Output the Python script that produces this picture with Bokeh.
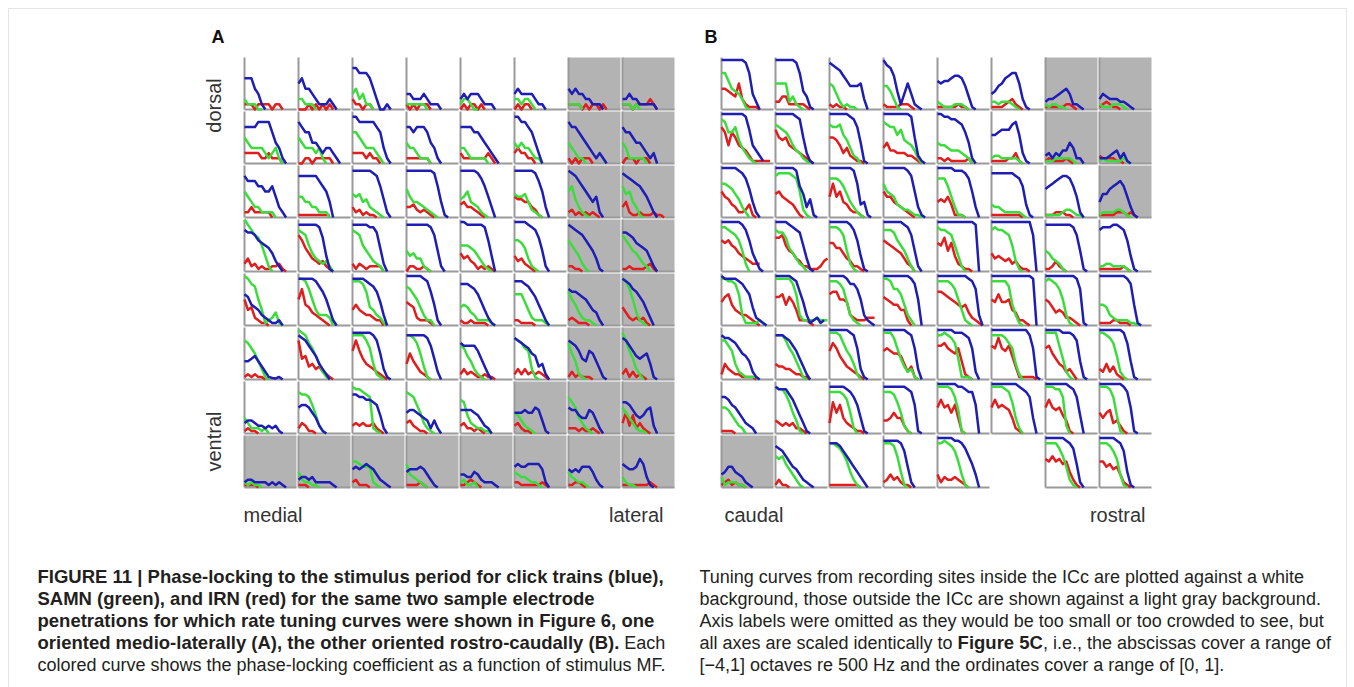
from math import pi
from bokeh.plotting import figure
from bokeh.models import Range1d, BoxAnnotation
from bokeh.core.properties import value
from bokeh.embed import file_html
from bokeh.resources import INLINE

# stimulus MF, octaves re 500 Hz (1/3-octave steps)
MF_OCT = [-4.0, -3.67, -3.33, -3.0, -2.67, -2.33, -2.0, -1.67, -1.33, -1.0,
          -0.67, -0.33, 0.0, 0.33, 0.67, 1.0]

# phase-locking coefficient, in tenths, row-major 8x8 (row 0 = dorsal / top)
A_BLUE = [
    [6,6,6,4,3,1,0], [5,6,4,4,3,2,1,1,1,2,1,0], [8,8,7,7,7,6,4,2,0,0,1,0], [3,3,2,2,2,3,2,1,1,1,0],
    [2,3,2,3,3,3,2,1,1,1,0], [3,4,3,3,3,3,2,1,1,0], [4,3,4,3,3,2,2,1,1,1,0], [2,2,3,2,2,1,1,1,1,1,0],
    [7,7,7,7,8,8,8,8,6,4,3,1,0], [8,7,6,6,4,4,3,2,3,3,2,1,0], [9,9,8,8,8,8,8,7,6,3,1,0], [7,7,6,7,7,7,6,4,3,1,0],
    [7,7,7,7,6,6,5,4,3,2,1,0], [9,9,8,8,7,6,4,2,0], [8,7,7,6,5,4,3,2,1,2,1,0], [7,6,6,5,4,4,3,2,1,2,0],
    [8,7,7,7,6,6,5,5,6,4,2,1,0], [8,8,8,8,8,8,7,6,5,3,0], [9,9,9,9,9,9,8.5,8,6,3.5,1,0], [9,9,9,9,9,9,9,9,8.5,6,3,0.5,0],
    [9,9,9,9,9,8.5,7.5,6,4,2,0], [9,9,9,9,9,9,8.5,7,5,2,0], [9,8.5,8,7,6,5,4,3,4,1,0], [8.5,8,7.5,7,6.5,6,5,4,2.5,1,0],
    [8,7.5,7.5,7,6,5.5,5,4.5,3.5,2,1,0], [9,9,9,9,9,9,8.5,6.5,3,0.5,0], [9,9,9,9,9,8.5,8.5,7.5,4.5,1.5,0], [9,9,9,9,9,9,9,8.5,7,4,1,0],
    [9.5,9.5,9,9,9,9,9,8.5,6,3,0], [9.5,9.5,9.5,9.5,9,8.5,8,6.5,4,1,0], [9,8.5,8,7.5,7,6,5,4,2.5,0.5,0], [7.5,7.5,7,6.5,5.5,5,4.5,4,2.5,1,0],
    [6,5.5,4,3.5,3,2,1.5,1,0.5,0.5,1,0], [9,9,9,9,9,8.5,7.5,6.5,5,3,1,0], [9,9,9,9,8.5,8,7.5,6.5,4.5,2,0], [9.5,9.5,9.5,9.5,9.5,9,8.5,6.5,4,1,0],
    [8,8,8,7.5,7,6,4.5,3,1.5,0.5,0], [8.5,8.5,8.5,8,7.5,6.5,5.5,4,2.5,1,0], [7,6.5,6.5,6,5.5,5,4,3,2.5,1,0], [9,8.5,8,7,6.5,5.5,4.5,3,1.5,0],
    [3.5,3.5,4,4.5,3.5,2.5,1.5,0.5,0.3,0.2,0.5,0], [8.5,8,7.5,6.5,5.5,4.5,3,2,1,0], [9,9,9,9,9,9,8.5,7.5,5,2,0.5,0], [8.5,8.5,8.5,8.5,8.5,8.5,8,6.5,4,1.5,0],
    [7,6.5,6.5,6.5,6.5,5.5,4,2.5,1,0], [8,7.5,7,6.5,6,5,4.5,2.5,3,1,0], [7.5,7,6.5,5.5,4,3.5,5.5,5,3.5,2,0.5,0], [8,7.5,6.5,5.5,4.5,4,4.5,5,3,0.5,0],
    [2,2.5,2.5,2,1.5,1.5,1,1.5,1,1.5,0.5,0], [5,5.5,5.5,5,4,3,1.5,0.5,0], [7.5,7.5,7,7,6.5,6.5,6,5.5,3.5,1,0], [4,4.5,4.5,4,3.5,3,2.5,1,2.5,1,0],
    [4.5,4.5,4.5,4.5,4,3.5,2.5,1.5,1,0], [4,4,4,4.5,4,4,5,4.5,2.5,0.5,0], [5,4.5,4.5,3.5,3,3,4.5,4,2.5,1,0], [6,6,5.5,4.5,3.5,3,3.5,4.5,5,1.5,0],
    [1,1.5,1.5,1,1,1,1,0.5,1,0.5,1,0.5,0], [1.5,2,2,1.5,2,1,1,1,1,1,0.5,0], [3.5,4,3.5,4,4.5,4,3.5,2.5,1.5,1,0.5,0], [3,3.5,3.5,3.5,4,3.5,2.5,1.5,0.5,0],
    [2.5,2.5,2,2,3,2.5,1.5,1,1,1,0.5,0], [4,4.5,4,4,4.5,4.5,4.5,4.5,3.5,1,0], [3.5,3,3.5,3,4,4,4,3,1.5,0.5,0], [4.5,4,3.5,3.5,4,5.5,4.5,2,0.5,0],
]
A_GREEN = [
    [2,1,1,1,0,0], [2,2,1,1,1,0], [3,4,2,3,1,1,0], [1,1,1,1,1,1,0],
    [1,2,2,1,0,0], [2,2,1,2,2,1,0], [1,1,1,1,0], [1,1,1,0,1,0],
    [5,4,3,3,3,3,2,1,2,3,1,0], [5,4,3,3,3,2,3,1,0], [6,6,5,4,3,3,3,2,1,0], [4,3,3,2,1,1,1,0],
    [3,3,2,1,1,1,1,1,0], [4,3,4,3,3,2,1,1,0], [4,3,2,1,1,0], [4,3,1,1,1,1,1,0],
    [5,4,3,2,2,1,1,1,1,0], [4,4,3,3,2,2,1,1,1,0], [4.5,4,4.5,3,3.5,2,1.5,1,0.5,0], [5.5,4,3,3,2.5,2,1.5,1,0.5,0],
    [3.5,4,5,3,2.5,2,1,0.5,0], [4.5,4,4,4.5,3,1.5,1,0.5,0], [5,6,3.5,2,1,0.5,0], [6,4.5,5,3,2,0.5,0],
    [10,9,8,7,6.5,5,3,1,0], [8,7.5,7,5,3.5,2.5,2,1.5,2,1,0], [8,7.5,7,5,4,3,2,1.5,1,0], [4,3,3.5,2.5,2.5,1,0.5,0],
    [5,5,5,4.5,4,3,2,1,0.5,0], [6,6,5.5,4.5,2.5,1,0.5,0], [6,5,4,3,1.5,0.5,0], [7,6,5,4,3.5,2.5,1.5,1,0],
    [9.5,9,8,7.5,5,3,0.5,1,1.5,2.5,0.5,0], [9,9,8.5,7,5,3,2,2,2,1.5,0], [8.5,8.5,8.5,8,6.5,3.5,3,2,1.5,0.5,0], [7.5,7,6,5,3.5,2,1,1,0],
    [3.5,4,3.5,2.5,2,1,1,1,1,0.5,0], [6,6,6,4.5,3,1.5,1,1,1,0.5,0], [6.5,5,4,2.5,1.5,1,1,0.5,0], [9,8.5,7,5,2.5,1,0.5,0],
    [7.5,7,6,5,3.5,2,0.5,0], [9.5,9,8.5,7,6,4.5,3,1.5,0.5,0], [8.5,8.5,8.5,8.5,7.5,6,3,1,0.5,0], [8.5,8.5,8,7,5,2.5,0.5,0],
    [6.5,6,4.5,3.5,2,1,0.5,0], [8,7.5,7,6,5.5,2,0.5,0], [7,5,3.5,1,0.5,0], [9,7.5,5.5,4,2,1,0],
    [3,2,1,1,1,0.5,1,0], [8,7.5,7.5,7,5.5,3.5,1.5,0.5,0], [9,8.5,8.5,8,7.5,7,1,0.5,0], [8,7.5,7,5.5,4,2,1,0.5,0],
    [6.5,6,3.5,2,1.5,1,1,0.5,0.5,0], [4,3.5,2.5,1.5,1,0.5,0], [7,6,5,3,2,1,0.5,0], [5,4,3,2,1,0.5,0.5,0],
    [1,0.5,1,0.5,0.5,0], [3,1.5,1,1,0.5,0.5,0], [5,5,4.5,4,4,4,1,0.5,0], [4.5,2.5,2,1.5,1,0.5,0],
    [1,1.5,0.5,0.5,1,0], [3,2.5,2,2,1.5,1,1,0.5,0], [3,2,1.5,1,1,0.5,0], [2,1,0.5,0.5,0],
]
A_RED = [
    [1,1,1,0,1,1,1,1,0,1,1,0], [0,0,0,1,0,1,0,1,0,1,0], [2,1,1,0,1,1,0], [1,0,1,0,1,1,1,0],
    [0,1,0,1,1,0,1,0], [0,1,0,1,1,0], [1,1,1,1,0,1,0,1,1,0,1,0], [1,1,1,0,1,1,1,1,2,1,0],
    [2,2,2,2,2,1,1,2,1,1,1,0], [0,0,1,1,0,1,1,1,1,1,0], [2,2,2,2,1,2,1,1,0], [1,1,1,1,1,1,1,0],
    [2,1,1,1,1,1,1,1,2,1,0], [2,3,2,2,1,1,0], [1,0,1,0,1,1,1,0], [0,1,1,1,0,1,1,1,0],
    [1,1,2,1,1,1,1,1,0], [0.5,0.5,0.5,0.5,0.5,0.5,0.5,0.5,0.5,0.5], [2,1,1.5,0.5,1,0.5,0.5,0], [2,2,2.5,1.5,1,1.5,1,0.5,0],
    [2.5,3,2,2,1.5,1,0.5,0], [4,3.5,3.5,3,3,2,1.5,0.5,0], [1,1.5,0.5,1,0.5,1,0.5,1,0.5,0], [2,3,1,0.5,0.5,1,0.5,0.5,0.5,1,0.5,0.5,0],
    [1.5,2.5,1,1.5,0.5,1,0.5,0.5,1,1,1.5,0.5,0], [7,6,4.5,3.5,2.5,2,1.5,2,1,0.5,0], [1.5,0.5,1.5,1,0.5,1,1,1,1,0], [0,1,1,0.5,0.5,1,0.5,0],
    [3.5,2.5,3,2,1.5,0.5,1,0.5,1,0.5,0], [3,2,2.5,1.5,1,0.5,0], [1,1,0.5,0.5,0], [0.5,0.5,1,0.5,0.5,0.5,0.5,1,1.5,0.5,0],
    [5,3,3.5,1.5,1,0.5,0.5,0], [5,7,4,3.5,2.5,2,1.5,1,0.5,0], [3,4,3,2.5,2,2,1.5,1,1,0], [4.5,4,3.5,1.5,1,1,1,0.5,0],
    [1,0.5,0.5,1,0.5,0.5,0.5,0.5,0], [1,1,0.5,0.5,0.5,0.5,0], [1,1.5,1,0.5,0.5,0.5,0], [3.5,2.5,1.5,1,1.5,1,1.5,0.5,0],
    [0.5,1,0.5,1,0.5,0.5,0], [7.5,4,4.5,2.5,3,2,2.5,1.5,1,0.5,0], [5.5,7.5,5.5,4,3,2.5,2,1.5,1,0.5,0], [3,5,3.5,2.5,1.5,1,0.5,0],
    [1,2,1,1.5,1,0.5,0.5,1,0.5,0.5,0], [1,2,1,2,1,1.5,1,1.5,1,0.5,0], [0.5,1.5,0.5,1,0.5,0.5,0.5,0], [1,2,0.5,1.5,0.5,1,0.5,0],
    [0.5,1,0.5,0.5,0], [1,2,1.5,0.5,0.5,0], [1.5,2,1.5,2,1.5,1.5,2,1,0.5,0], [2,2.5,1.5,1,0.5,0.5,0],
    [1.5,2,1,1,0.5,1,0.5,0], [1.5,2,1,0.5,0.5,0], [1,1,1,0.5,1,0.5,0.5,1,0.5,0], [2,4,1.5,3.5,1,2,1,0.5,0],
    [0.5,0.5,0.5,0.5,0], [0.5,0.5,0.5,0], [1,1.5,0.5,0.5,0.5,0], [0.5,0.5,0.5,0.5,1,0.5,0],
    [0.5,0.5,1,1.5,1,0.5,0], [1,1,0.5,0.5,0.5,0.5,0.5,0.5,1,0.5,0], [0.5,0.5,1,1,0.5,0], [0.5,0.5,0.5,0.5,0.5,0.5,0.5,0.5,1,0.5,0],
]
A_OUTSIDE = ["00000011", "00000011", "00000011", "00000011",
             "00000011", "00000011", "00000111", "11111111"]

B_BLUE = [
    [9.5,9.5,9.5,9.5,9.5,9.5,9.5,9,7,3,1.5,0], [9.5,9.5,9.5,9.5,9.5,9.5,9,7,3.5,2.5,0.5,0], [9,8.5,8,7.5,6.5,5.5,4.5,4.5,4.5,5,2,0], [9.5,8.5,8,6.5,3.5,1,3,5,3,1,0.5,0],
    [5.5,5,5.5,5.5,6,6.5,6.5,6,4.5,2.5,0.5,0], [3,3.5,4.5,5,6,6.5,7,7,5,2,0.5,0], [1.5,2,2,2.5,3,3.5,4,3,1,1,0.5,0], [2,3,2.5,2,2,2,1.5,1.5,1,0.5,0],
    [9.5,9.5,9.5,9.5,9.5,9.5,9.5,9,6.5,3.5,2.5,1.5,0.5], [9.5,9.5,9.5,9.5,9.5,9.5,9,8.5,5,2,0.5,0], [9.5,9.5,9.5,9.5,9.5,9.5,9,8.5,7,4,0.5,0], [9.5,9.5,9.5,9.5,9.5,9.5,9.5,9.5,9,5,1.5,0.5,0],
    [9.5,9.5,9,9,8.5,8.5,8,7.5,6,4,1,0], [5.5,5.5,6,6.5,6.5,6.5,7.5,8,5.5,2,0.5,0], [1.5,2,1,2,1.5,2.5,2.5,4,3,1,1,0], [1,1,1,1.5,2,2.5,1,2,0.5,0],
    [9.5,9.5,9.5,9.5,9.5,9,8.5,7.5,5.5,3,1,0], [9.5,9.5,9.5,9.5,9.5,9.5,9,6,4.5,2,3.5,0.5,0], [9.5,9.5,9.5,9.5,9.5,9.5,9.5,9,6.5,2.5,3,0.5,0], [9.5,9.5,9.5,9.5,9.5,9.5,9.5,9,8,5,2,0.5,0],
    [9.5,9.5,9.5,9.5,9.5,9,9,9,8.5,7.5,5,2,0], [8.5,8.5,8.5,8.5,8.5,8.5,8.5,8,7.5,6,2.5,0.5,0], [5.5,6,6.5,7,7.5,8,8,7.5,6,4,1,0], [3,4.5,4.5,5.5,6,6.5,7,6,4,2,0.5,0],
    [9.5,9.5,9.5,9.5,9.5,9.5,9,8,6,3.5,2,0.5,0], [9.5,9.5,9.5,9.5,9,8.5,8,7.5,5,2.5,0.5,0], [9.5,9.5,9.5,9.5,9.5,9.5,9,8,6,3,0.5,0], [9.5,9.5,9.5,9.5,9.5,9.5,9,8.5,7,4,1,0],
    [9.5,9.5,9.5,9.5,9.5,9.5,9.5,9.5,9.5,9.5,9.5,9,0], [9.5,9.5,9.5,9.5,9.5,9.5,9.5,9.5,9.5,9.5,9.5,9.5,7,0], [9,9,9,9,9,9,9,9,8.5,7,4,0.5,0], [8,8.5,8.5,8.5,9,9,8.5,8,6,3,0.5,0],
    [9.5,9,9,9,9,8.5,8,7,6,3.5,1.5,1,0.5,0], [9.5,9.5,9.5,9.5,9.5,9,8.5,6.5,4.5,2,0.5,1,1.5,0.5,1], [9.5,9.5,9.5,9.5,9.5,9,8,8,7,5,2,1,0.5,0], [9.5,9.5,9.5,9.5,9.5,9.5,9.5,9.5,9,8,5,0],
    [9.5,9.5,9.5,9.5,9.5,9.5,9.5,9.5,9.5,9,8.5,7,2,0], [9.5,9.5,9.5,9.5,9.5,9.5,9.5,9.5,9.5,9.5,9.5,9.5,9,0], [9.5,9.5,9.5,9.5,9.5,9.5,9.5,9.5,9.5,9,7,0.5,0], [9.5,9.5,9.5,9.5,9.5,9.5,9.5,9.5,9,8,4,0.5,0],
    [8.5,8,8,7.5,7,6,5,4.5,3.5,1.5,0.5,0], [8.5,8.5,8.5,8,7.5,6.5,5.5,4,2.5,1,0], [9.5,9.5,9.5,9.5,9.5,9.5,9,8.5,6,2,0.5,0], [9.5,9.5,9.5,9.5,9.5,9.5,9.5,9,8.5,6,2,0],
    [9.5,9.5,9.5,9.5,9.5,9,9,9,8.5,8,6,1.5,0], [9.5,9.5,9.5,9.5,9.5,9.5,9.5,9.5,9.5,9.5,9.5,8.5,6,0.5,0], [9.5,9.5,9.5,9.5,9.5,9,9,9,8.5,7.5,3.5,0.5,0], [9.5,9.5,9.5,9.5,9.5,9.5,9.5,9,7,3.5,0.5,0],
    [7,7,6.5,5.5,5,4,3,2,1.5,1,0], [9,8.5,8.5,8.5,7.5,6.5,5,3.5,2,0.5,0], [9,9,9,9,9,8.5,8,7,5.5,3,0.5,0], [9,9,9,9,9,9,9,8.5,8,5.5,0.5,0],
    [9.5,9.5,9.5,9.5,9.5,9.5,9,9,8.5,8,8,5.5,0], [9.5,9.5,9.5,9.5,9.5,9.5,9.5,9.5,9,8.5,8,7,3,0], [9.5,9.5,9.5,9.5,9.5,9.5,9.5,9,8.5,7,3.5,0], [9.5,9.5,9.5,9.5,9.5,9.5,9.5,9,8,5,0.5,0],
    [2.5,3,4,4,3,2.5,2,1,0.5,0], [8,7.5,7,6,5,4,3.5,2.5,1.5,1,0.5,0], [8.5,8.5,8.5,8,7,6,5,4,3,2,1,0], [9,9,9,9,9,8.5,7,4,1,0],
    [9.5,9.5,9.5,9.5,9.5,9,9,8.5,7.5,6,4.5,2.5,0], [], [9.5,9.5,9.5,9.5,9.5,9.5,9,8.5,7.5,4.5,1,0], [9.5,9.5,9.5,9.5,9.5,9,8.5,7,3,0.5,0],
]
B_GREEN = [
    [7,7,5.5,4,3.5,3,2,0.5,0], [5,5,5,5,1.5,2.5,1,0.5,0], [5,4.5,3,1.5,0.5,1,0.5,0.5,0], [4.5,4.5,3.5,2,0.5,0],
    [1.5,1,0.5,0.5,0.5,1,1,1,0.5,0], [1.5,1.5,1,1.5,1.5,1.5,1,0.5,0], [1,0.5,1,1,0.5,0.5,0], [1,0.5,0.5,0.5,1,1,1,0.5,0],
    [8.5,8,6,6,7,4.5,3,2,1,0.5,0], [7.5,7,6.5,6,5,3.5,2.5,2,1,0.5,0], [7.5,7,7,7.5,5.5,4.5,3,1.5,1,0], [8,7.5,7,7,5.5,6.5,4.5,4,3.5,2.5,1,0],
    [4,3.5,3.5,3,2.5,2.5,2.5,2,1.5,1,0], [1,1.5,1.5,1,1,1,1,1,0.5,0], [0.5,0.5,0.5,1,1,1,1,1,0.5,0], [0.5,1,0.5,0.5,0.5,0.5,0.5,1,0.5,0],
    [6.5,6.5,6,5.5,4.5,3.5,2,1,0], [8,8.5,8.5,8.5,8.5,8,7.5,5,1.5,0.5,0], [7.5,7.5,7.5,7,6,4.5,3,2,1,0.5,0], [6.5,5,4.5,4,2.5,2,1.5,1.5,1,0.5,0.5,0],
    [7.5,7.5,7.5,6,4,2,0.5,0.5,0], [2.5,2,2,1.5,1,1,1,1,1,0.5,0], [0.5,0.5,0.5,0.5,0.5,1,1.5,1.5,1,0.5,0.5,0], [0.5,1,1,1,1,1.5,1.5,1,0.5,0],
    [8.5,8.5,8,7.5,7,6,4,1.5,0], [8,7.5,7.5,6.5,4.5,3.5,2.5,1.5,1,0], [8.5,8.5,8.5,8,7,4,1.5,0.5,0], [8,8,8,7.5,6,5,4,2.5,1,0],
    [8.5,8,8,7.5,7,5,3,1,0], [8,8.5,8,8,7.5,7,5,2,0.5,0], [4,3.5,2.5,2,1.5,0.5,0], [1,1,1.5,1.5,1,1,1,1,0.5,0],
    [9,9,8.5,8.5,8,6,2,0.5,0.5,0.5,0.5,1,0.5,0], [9,9,9,9,9,8,6,2,1,1,1,1,1.5,1,1,1], [8.5,8.5,8.5,8,7,4.5,2,1,0.5,0], [9,9,8.5,7,7,6,4,2,1,0],
    [8.5,8.5,8.5,8.5,8,7,5,3,1,0.5,0], [8.5,8.5,8.5,8.5,8.5,7.5,4,2,0.5,0], [8.5,9,8.5,8,7,5,2,0.5,0], [4,4,3.5,2,1.5,1,1,1,1,0.5,0.5,0],
    [7.5,7.5,6.5,5.5,3,1.5,1,0.5,0.5,0.5,0.5,0], [8.5,8.5,8.5,7.5,6,5,3.5,2,0.5,0], [9,9,9,8.5,7,5.5,4.5,3,1,0], [9,9,9,8,6,4,2.5,1.5,2,0.5,0],
    [8.5,8.5,9,8.5,8,7,4,0.5,0.5,0.5,0], [8.5,8.5,8.5,8.5,8,7,6,3,1,0], [9,9,9,9,6.5,4,1.5,0.5,0], [9,9,8.5,8,7,4.5,1.5,0.5,0],
    [5,5,4.5,3.5,2.5,1.5,1,0], [9,8.5,8.5,7.5,6,4,2.5,0.5,0], [8,8,8,8,7.5,6.5,4,1,0], [8,8,8,7.5,6,4,1.5,0.5,0],
    [9,9,9,9,8.5,7,4.5,0.5,0], [9,9,9,9,8.5,8,6,3,1,0], [9,9,9,8.5,8.5,7,1.5,0], [9,9,9,8.5,7,3.5,0.5,0],
    [2,0.5,1,1,1,0.5,0.5,0], [6,5.5,6,4.5,3.5,2.5,1.5,0.5,0], [8.5,8.5,8,7.5,6.5,5,3,1.5,0.5,0], [8.5,8.5,8.5,8,6,3,0.5,0],
    [8.5,8.5,9,8.5,8,7,5,2.5,0.5,0], [], [8.5,8.5,8.5,8.5,7.5,6,4,1.5,0.5,0], [8.5,8.5,8.5,8,7,5.5,2.5,0.5,0],
]
B_RED = [
    [4,4,3.5,3,2.5,5,2,1,0.5,0.5,0.5,0], [1.5,1.5,2.5,2.5,1,1,1,1,1,0.5,0], [1,0.5,1,0.5,0.5,0], [1,0.5,0.5,0.5,0.5,1,1,1,0.5,0],
    [0.5,0.5,0.5,0.5,0.5,0.5,1,0.5,0.5,0], [0.5,0.5,0.5,0.5,1,1.5,2,1,0.5,0], [0.5,0.5,0.5,0.5,0.5,0.5,1,1,0.5,0], [0.5,1,1.5,1,0.5,0.5,0],
    [7,6,3.5,6,5,3.5,3,2.5,1.5,0.5,0.5,0.5,0.5,0.5,0.5], [6.5,5,4.5,5,3.5,3,2.5,2,1.5,1,0.5,0], [5,5,4.5,3.5,2,3,1.5,1,0.5,0.5,0], [3,4,2.5,2.5,2,2,2,1.5,1.5,1,0.5,0],
    [1,1,0.5,1,0.5,0.5,0.5,0.5,0.5,1,0], [0.5,0.5,0.5,0.5,0.5,1,1,2,0.5,0], [0.5,1,0.5,0.5,0.5,0.5,1,0.5,0], [1.5,1,1,1,1,0.5,0.5,0],
    [5,4,3.5,2.5,2,1,1,1.5,2.5,0.5,0], [4.5,5,4,3.5,3,2.5,1.5,0.5,0], [4,6.5,4,5,3,2.5,1.5,1,1,0.5,0], [5,4,4,3,2.5,2,1.5,1,0.5,0],
    [3,3.5,3,4,2.5,0.5,0.5,0.5,0], [0.5,0.5,0.5,0.5,0.5,0.5,0.5,0.5,0.5,0], [0.5,0.5,0.5,1,1,1,0.5,0.5,0], [0.5,0.5,0.5,0.5,0.5,1,1,1,0.5,1,0.5,0],
    [6,5.5,6,5,4.5,3.5,3,2.5,2,1.5,1.5,1.5], [6.5,6.5,7,5,4,3.5,2.5,2,1,1,0.5,0.5,0.5,1,2,2.5], [5.5,5.5,4.5,4.5,3.5,2.5,2,1,1,0.5,0], [6,5.5,5,4.5,4,3.5,2.5,1.5,1,0],
    [5.5,5,6.5,4,5.5,3,1.5,1,0.5,0.5,0], [3.5,2.5,3,2.5,2,2.5,1.5,2,1,0.5,0.5,0], [0.5,0.5,1,2,1,0.5,0], [0.5,0.5,0.5,0.5,0.5,0.5,0.5,1,0.5,0],
    [4.5,5.5,6,4,3,2.5,2,2,1.5,1,0.5,0], [5.5,5.5,6,4,5.5,4.5,3,1,1,1,0.5,0], [6,6.5,6.5,5,5,4.5,2,1.5,1,1,1,1.5,1.5,1.5], [5.5,5,4.5,4,4,3,3,1,0],
    [6.5,6.5,6,5.5,5,4.5,4,3.5,4,2.5,1.5,1,0.5,0], [5,4.5,6,4.5,4.5,5,3,2.5,1,1,0.5,0], [5,4.5,3.5,2.5,3,2.5,1.5,1.5,1,0.5,0], [0.5,0.5,0.5,0.5,1,1,0.5,0.5,0.5,0],
    [1,3,2,1.5,1,1,0.5,0.5,0.5,0.5,0], [3,2.5,2.5,2,2,1.5,1,1,0.5,0.5,0], [5.5,7,6,4.5,3.5,2.5,2,1.5,1,0.5,0], [5.5,6,5.5,5,5,4.5,3,1.5,2.5,0.5,0],
    [6.5,6.5,7,6,5.5,5,6,3.5,1,0.5,0], [6.5,6,8,6,5.5,6.5,4.5,2.5,0.5,0.5,0.5,0.5,0.5,0], [6,6.5,5,4,3,2.5,1.5,2,1,0], [2,1.5,3,1.5,2.5,1,0.5,0],
    [0.5,0.5,0.5,0.5,0], [2.5,2,1.5,2,1.5,2,1,1,0.5,0], [2,6,4,5.5,3,2,1.5,1,0.5,0.5,0], [2.5,2.5,3,4,3,3,1.5,0.5,0],
    [5,6.5,5,5.5,4,5.5,3,0.5,0], [5,6.5,5,5.5,5,4.5,3,1,0.5,0], [5,6.5,5,4.5,5,3.5,2.5,0.5,0], [4,3,4,4.5,2,2.5,1.5,0.5,0],
    [0.5,1,1.5,0.5,1,0.5,0.5,0], [0.5,1.5,0.5,0.5,0], [0.5,0.5,0.5,0.5,0.5,0.5,0.5,0.5,0.5,0], [1,1.5,2.5,1.5,2,1,0.5,0.5,0],
    [2.5,1,2,1.5,1.5,2,1.5,1,0.5,0], [], [5.5,5,6,5,5.5,4.5,5,3,1.5,0.5,0], [5,5,4,4.5,3.5,4,2.5,1,0.5,0],
]
B_OUTSIDE = ["00000011", "00000011", "00000001", "00000000",
             "00000000", "00000000", "00000000", "10000000"]

CAPTION_LEFT_BOLD = [
    "FIGURE 11 | Phase-locking to the stimulus period for click trains (blue),",
    "SAMN (green), and IRN (red) for the same two sample electrode",
    "penetrations for which rate tuning curves were shown in Figure 6, one",
    "oriented medio-laterally (A), the other oriented rostro-caudally (B).",
]
CAPTION_LEFT_TAIL = "Each"
CAPTION_LEFT_LAST = "colored curve shows the phase-locking coefficient as a function of stimulus MF."
CAPTION_RIGHT = [
    "Tuning curves from recording sites inside the ICc are plotted against a white",
    "background, those outside the ICc are shown against a light gray background.",
    "Axis labels were omitted as they would be too small or too crowded to see, but",
    None,
    "[\u22124,1] octaves re 500 Hz and the ordinates cover a range of [0, 1].",
]
CAPTION_R4 = ["all axes are scaled identically to ", "Figure 5C", ", i.e., the abscissas cover a range of"]

# ---- styling / layout ----
BLUE, GREEN, RED = "#1e1eb4", "#3ddc3d", "#e01e1e"
GRAY_BG, AXIS_COL = "#b3b3b3", "#9a9a9a"
TXT = "#231f20"
FONT = value("Liberation Sans")
W, H = 1354, 687
CELL, PITCH, TOP = 52, 54, 57
PANEL_LEFT = {"A": 244, "B": 721}

p = figure(width=W, height=H, x_range=Range1d(0, W), y_range=Range1d(H, 0),
           output_backend="svg", toolbar_location=None, min_border=0,
           x_axis_location=None, y_axis_location=None)
p.grid.visible = False
p.outline_line_color = None
p.background_fill_color = "white"
p.border_fill_color = "white"

p.add_layout(BoxAnnotation(left=8, right=1346, top=8, bottom=720, fill_alpha=0,
                           line_color="#a6a6a6", line_width=1))

X_SRC = Range1d(-4, 1)
Y_SRC = Range1d(0, 1)


def draw_panel(x_left, blue, green, red, outside):
    for r in range(8):
        for c in range(8):
            i = r * 8 + c
            if not blue[i]:
                continue
            left = x_left + c * PITCH
            top = TOP + r * PITCH
            sp = p.subplot(x_source=X_SRC, y_source=Y_SRC,
                           x_target=Range1d(left, left + CELL),
                           y_target=Range1d(top + CELL, top))
            if outside[r][c] == "1":
                sp.quad(left=[-4], right=[1], bottom=[0], top=[1],
                        fill_color=GRAY_BG, line_color=None)
            sp.segment(x0=[-4, -4], y0=[0, 0], x1=[1, -4], y1=[0, 1],
                       line_color=AXIS_COL, line_width=2)
            for vals, col in ((red[i], RED), (green[i], GREEN), (blue[i], BLUE)):
                sp.line(x=MF_OCT[:len(vals)], y=[v / 10 for v in vals],
                        line_color=col, line_width=2.5, line_join="round")


draw_panel(PANEL_LEFT["A"], A_BLUE, A_GREEN, A_RED, A_OUTSIDE)
draw_panel(PANEL_LEFT["B"], B_BLUE, B_GREEN, B_RED, B_OUTSIDE)

# panel letters
p.text(x=[211, 704], y=[36, 36], text=["A", "B"], text_font=FONT, text_font_size="18px",
       text_font_style="bold", text_color="#111111", text_baseline="middle", text_align="left")
# orientation labels
p.text(x=[213, 213], y=[105, 441], text=["dorsal", "ventral"], angle=pi / 2, text_font=FONT,
       text_font_size="20px", text_color="#333333", text_baseline="middle", text_align="center")
p.text(x=[243, 724], y=[514, 514], text=["medial", "caudal"], text_font=FONT,
       text_font_size="20px", text_color="#333333", text_baseline="middle", text_align="left")
p.text(x=[663, 1145], y=[514, 514], text=["lateral", "rostral"], text_font=FONT,
       text_font_size="20px", text_color="#333333", text_baseline="middle", text_align="right")

# caption
CAP_SIZE = 18
BOLD_SIZE = 18.5
LINE_Y = [576, 598, 620, 642, 664]
LX, RX = 37, 699
p.text(x=[LX] * 4, y=LINE_Y[:4], text=CAPTION_LEFT_BOLD, text_font=FONT,
       text_font_size=f"{BOLD_SIZE}px", text_font_style="bold", text_color=TXT,
       text_baseline="middle", text_align="left")
p.text(x=[LX + 31.45 * BOLD_SIZE + 0.278 * CAP_SIZE, LX], y=[LINE_Y[3], LINE_Y[4]],
       text=[CAPTION_LEFT_TAIL, CAPTION_LEFT_LAST], text_font=FONT,
       text_font_size=f"{CAP_SIZE}px", text_color=TXT, text_baseline="middle", text_align="left")
right_idx = [0, 1, 2, 4]
p.text(x=[RX] * 4, y=[LINE_Y[k] for k in right_idx], text=[CAPTION_RIGHT[k] for k in right_idx],
       text_font=FONT, text_font_size=f"{CAP_SIZE}px", text_color=TXT,
       text_baseline="middle", text_align="left")
p.text(x=[RX, RX + 14.339 * CAP_SIZE + 4.612 * BOLD_SIZE], y=[LINE_Y[3]] * 2,
       text=[CAPTION_R4[0], CAPTION_R4[2]], text_font=FONT, text_font_size=f"{CAP_SIZE}px",
       text_color=TXT, text_baseline="middle", text_align="left")
p.text(x=[RX + 14.339 * CAP_SIZE], y=[LINE_Y[3]], text=[CAPTION_R4[1]], text_font=FONT,
       text_font_size=f"{BOLD_SIZE}px", text_font_style="bold", text_color=TXT,
       text_baseline="middle", text_align="left")

open("out.html", "w").write(file_html(p, INLINE))
